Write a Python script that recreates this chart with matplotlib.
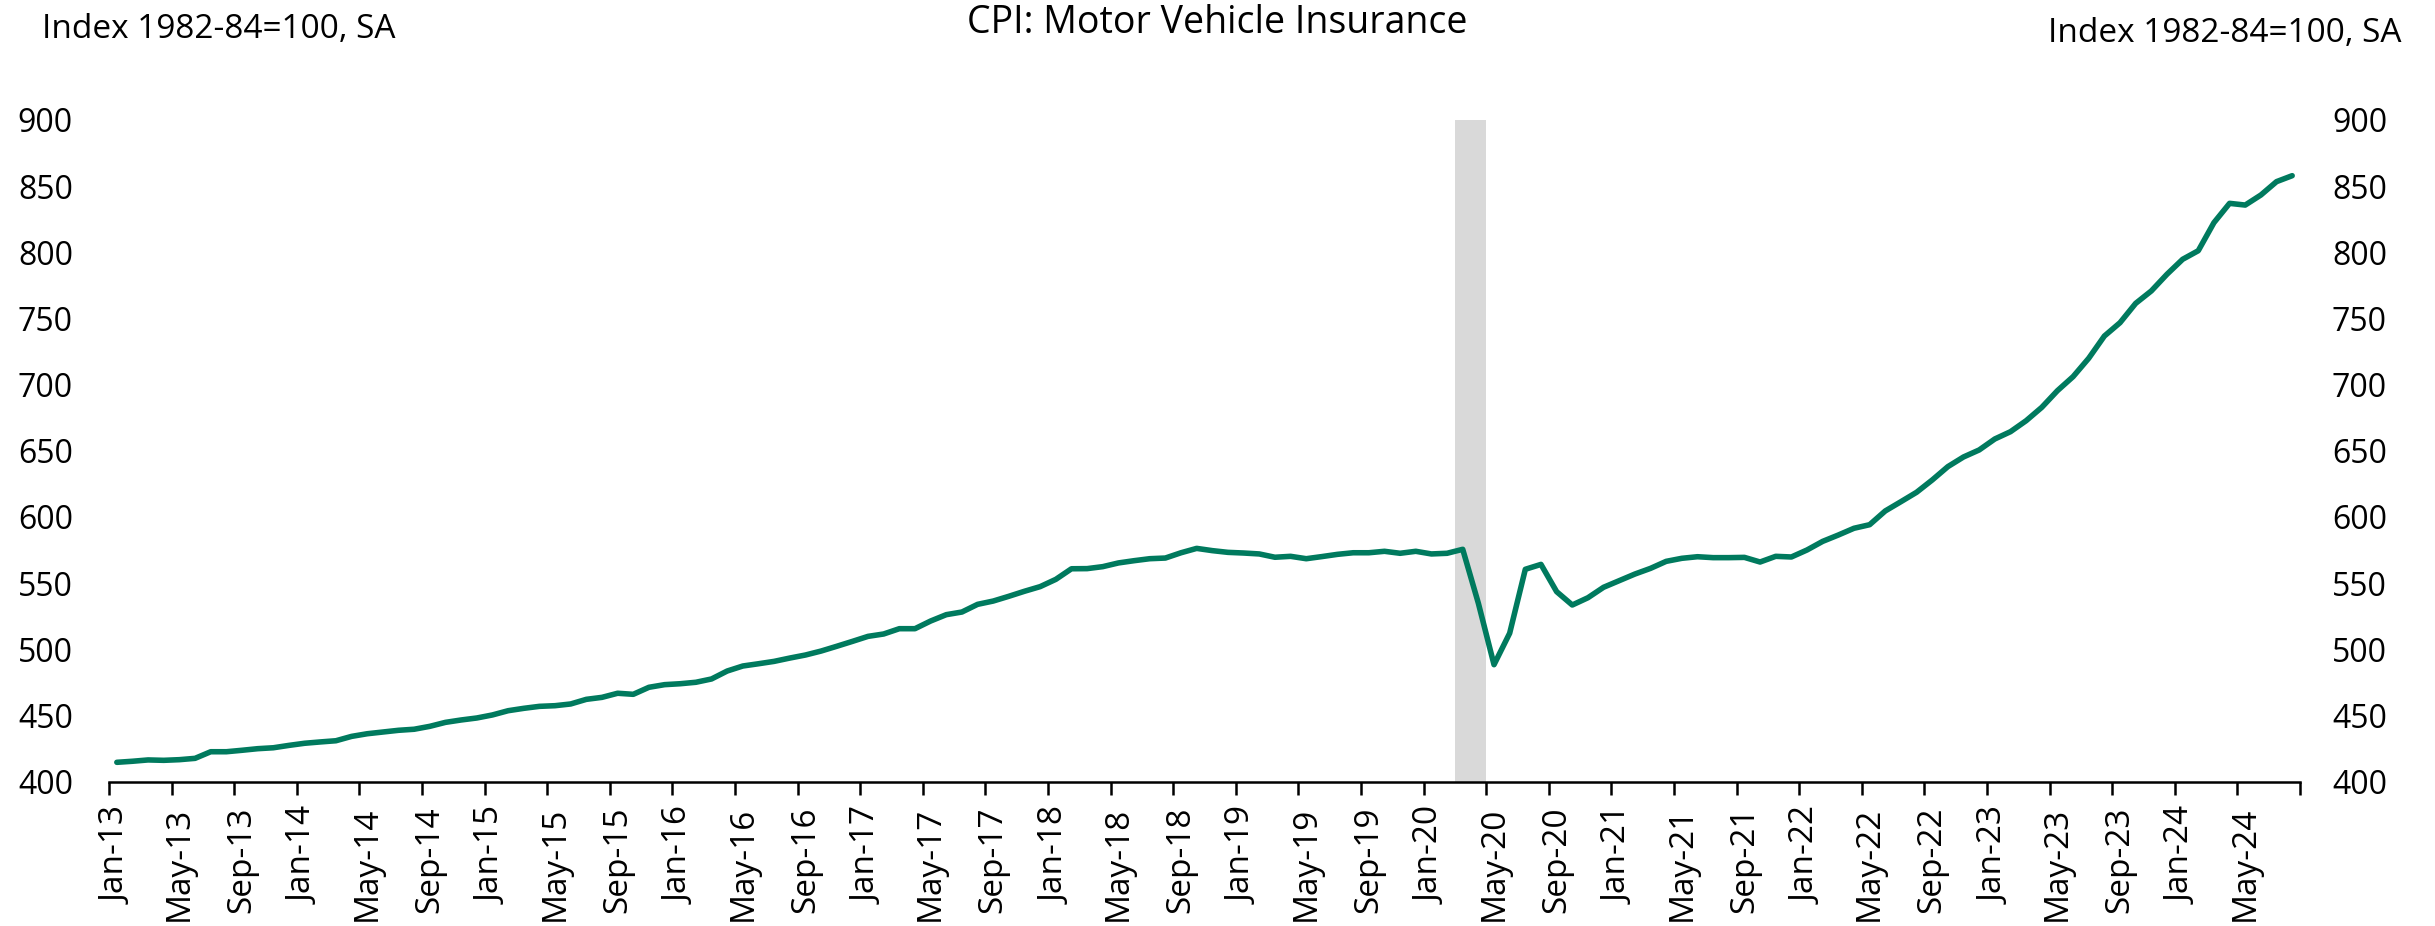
import matplotlib
matplotlib.use("Agg")
import matplotlib.pyplot as plt
import pandas as pd

plt.rcParams["font.family"] = ["Open Sans", "DejaVu Sans"]

# ── Data: monthly CPI for motor vehicle insurance, Jan-2013 .. Aug-2024 ──
months = pd.date_range("2013-01-01", "2024-08-01", freq="MS")
month_labels = [d.strftime("%b-%y") for d in months]

cpi_values = [
    414.5, 415.3, 416.3, 416.0, 416.5, 417.5, 422.5, 422.5, 423.6, 424.8, 425.5, 427.3,
    428.9, 429.9, 430.8, 434.1, 436.1, 437.4, 438.7, 439.5, 441.7, 444.7, 446.5, 448.0,
    450.3, 453.5, 455.3, 456.8, 457.3, 458.6, 462.1, 463.6, 466.7, 465.9, 471.2, 473.2,
    473.9, 475.0, 477.5, 483.5, 487.3, 489.0, 490.8, 493.3, 495.6, 498.6, 502.2, 505.9,
    509.7, 511.5, 515.5, 515.5, 521.3, 526.1, 528.1, 533.9, 536.4, 540.0, 543.8, 547.3,
    552.8, 560.8, 560.9, 562.4, 565.2, 566.9, 568.4, 568.9, 572.9, 576.2, 574.5, 573.2,
    572.7, 572.0, 569.5, 570.2, 568.4, 570.0, 571.7, 572.9, 572.9, 574.0, 572.5, 574.0,
    572.0, 572.5, 575.5, 534.7, 488.3, 512.1, 560.4, 564.1, 543.5, 533.4, 538.9, 546.8,
    551.8, 556.8, 561.1, 566.4, 568.7, 569.9, 569.2, 569.2, 569.4, 565.9, 570.2, 569.7,
    575.0, 581.5, 586.3, 591.4, 594.1, 604.5, 611.5, 618.6, 627.9, 638.0, 645.3, 650.6,
    658.9, 664.4, 672.7, 682.8, 695.4, 706.0, 719.9, 736.7, 746.8, 761.4, 770.8, 783.4,
    794.7, 801.2, 822.4, 837.0, 835.7, 843.3, 853.4, 857.9,
]

# recession shading (Mar-20 .. Apr-20)
recession_start = "2020-03"
recession_end = "2020-04"

y_ticks = list(range(400, 901, 50))

title = "CPI: Motor Vehicle Insurance"
unit_label = "Index 1982-84=100, SA"

LINE_COLOR = "#007A5E"
SHADE_COLOR = "#D9D9D9"


def main():
    n = len(cpi_values)
    xs = list(range(n))
    period_idx = [d.strftime("%Y-%m") for d in months]
    r0 = period_idx.index(recession_start)
    r1 = period_idx.index(recession_end)

    fig = plt.figure(figsize=(24.35, 9.26), dpi=100)
    ax = fig.add_axes([109 / 2435, 1 - 781.5 / 926, (2300 - 109) / 2435, (781.5 - 120) / 926])

    ax.axvspan(r0 - 0.5, r1 + 0.5, ymin=0, ymax=1, color=SHADE_COLOR, lw=0, zorder=1)
    ax.plot(xs, cpi_values, color=LINE_COLOR, lw=4.0, solid_capstyle="round", zorder=3)

    ax.set_xlim(-0.5, n - 0.5)
    ax.set_ylim(400, 900)

    # labels on every 4th month centre, tick marks on category boundaries
    ax.set_xticks(xs[::4])
    ax.set_xticklabels(month_labels[::4], rotation=90, fontsize=24)
    ax.set_xticks([b - 0.5 for b in range(0, n + 1, 4)], minor=True)
    ax.tick_params(axis="x", which="major", length=0, pad=18)
    ax.tick_params(axis="x", which="minor", length=9, width=1.8, color="black", direction="out")

    ax.set_yticks(y_ticks)
    ax.tick_params(axis="y", length=0, labelsize=23, pad=26)

    for side in ("top", "left", "right"):
        ax.spines[side].set_visible(False)
    ax.spines["bottom"].set_linewidth(1.8)

    ax2 = ax.twinx()
    ax2.set_ylim(ax.get_ylim())
    ax2.set_yticks(y_ticks)
    ax2.tick_params(axis="y", length=0, labelsize=23, pad=23)
    for side in ("top", "left", "right", "bottom"):
        ax2.spines[side].set_visible(False)

    fig.text(0.5, 1 - 23 / 926, title, ha="center", va="center", fontsize=27)
    fig.text(42 / 2435, 1 - 30 / 926, unit_label, ha="left", va="center", fontsize=24)
    fig.text(2402 / 2435, 1 - 33 / 926, unit_label, ha="right", va="center", fontsize=24)

    fig.savefig("out.png", dpi=100)


if __name__ == "__main__":
    main()
